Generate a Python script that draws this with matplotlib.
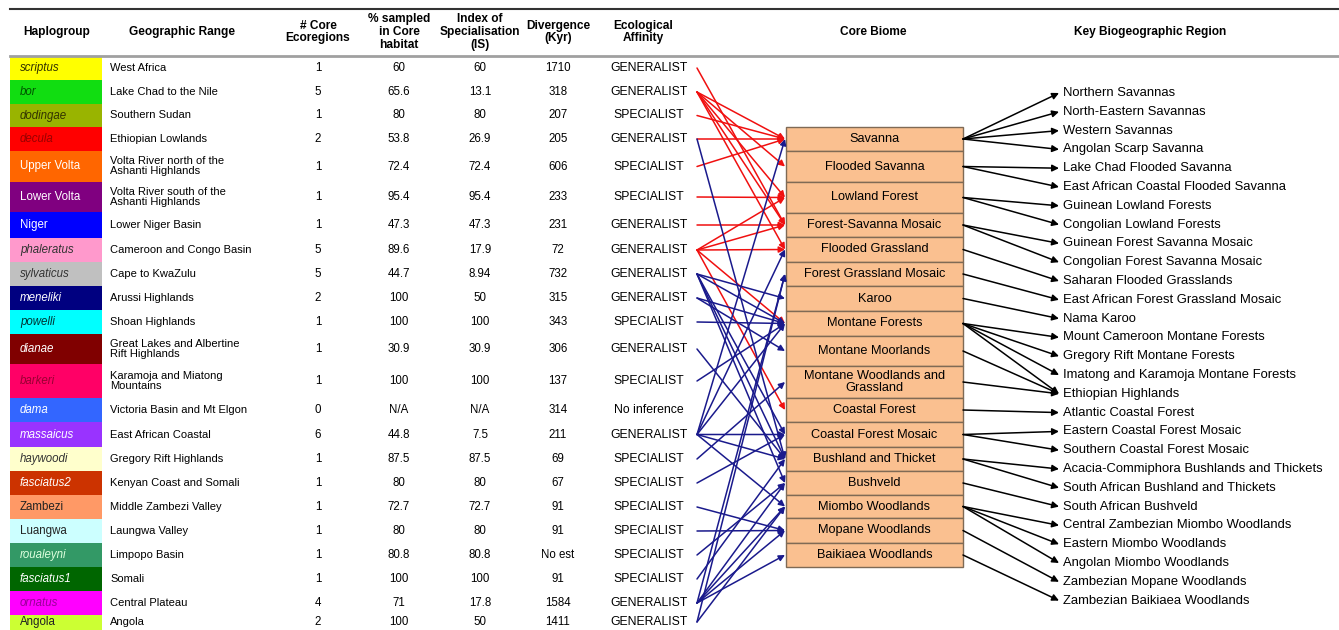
import matplotlib.pyplot as plt
from matplotlib.patches import Rectangle

plt.rcParams['font.family'] = ['Liberation Sans', 'DejaVu Sans']

# ---- table data ----
haplogroups = ['scriptus', 'bor', 'dodingae', 'decula', 'Upper Volta', 'Lower Volta', 'Niger',
               'phaleratus', 'sylvaticus', 'meneliki', 'powelli', 'dianae', 'barkeri', 'dama',
               'massaicus', 'haywoodi', 'fasciatus2', 'Zambezi', 'Luangwa', 'roualeyni',
               'fasciatus1', 'ornatus', 'Angola']
geo_range = ['West Africa', 'Lake Chad to the Nile', 'Southern Sudan', 'Ethiopian Lowlands',
             'Volta River north of the\nAshanti Highlands', 'Volta River south of the\nAshanti Highlands',
             'Lower Niger Basin', 'Cameroon and Congo Basin', 'Cape to KwaZulu', 'Arussi Highlands',
             'Shoan Highlands', 'Great Lakes and Albertine\nRift Highlands',
             'Karamoja and Miatong\nMountains', 'Victoria Basin and Mt Elgon', 'East African Coastal',
             'Gregory Rift Highlands', 'Kenyan Coast and Somali', 'Middle Zambezi Valley',
             'Laungwa Valley', 'Limpopo Basin', 'Somali', 'Central Plateau', 'Angola']
n_core = ['1', '5', '1', '2', '1', '1', '1', '5', '5', '2', '1', '1', '1', '0', '6', '1', '1', '1',
          '1', '1', '1', '4', '2']
pct_core = ['60', '65.6', '80', '53.8', '72.4', '95.4', '47.3', '89.6', '44.7', '100', '100', '30.9',
            '100', 'N/A', '44.8', '87.5', '80', '72.7', '80', '80.8', '100', '71', '100']
spec_index = ['60', '13.1', '80', '26.9', '72.4', '95.4', '47.3', '17.9', '8.94', '50', '100', '30.9',
              '100', 'N/A', '7.5', '87.5', '80', '72.7', '80', '80.8', '100', '17.8', '50']
divergence = ['1710', '318', '207', '205', '606', '233', '231', '72', '732', '315', '343', '306',
              '137', '314', '211', '69', '67', '91', '91', 'No est', '91', '1584', '1411']
affinity = ['GENERALIST', 'GENERALIST', 'SPECIALIST', 'GENERALIST', 'SPECIALIST', 'SPECIALIST',
            'GENERALIST', 'GENERALIST', 'GENERALIST', 'GENERALIST', 'SPECIALIST', 'GENERALIST',
            'SPECIALIST', 'No inference', 'GENERALIST', 'SPECIALIST', 'SPECIALIST', 'SPECIALIST',
            'SPECIALIST', 'SPECIALIST', 'SPECIALIST', 'GENERALIST', 'GENERALIST']

biomes = ['Savanna', 'Flooded Savanna', 'Lowland Forest', 'Forest-Savanna Mosaic',
          'Flooded Grassland', 'Forest Grassland Mosaic', 'Karoo', 'Montane Forests',
          'Montane Moorlands', 'Montane Woodlands and\nGrassland', 'Coastal Forest',
          'Coastal Forest Mosaic', 'Bushland and Thicket', 'Bushveld', 'Miombo Woodlands',
          'Mopane Woodlands', 'Baikiaea Woodlands']

regions = ['Northern Savannas', 'North-Eastern Savannas', 'Western Savannas', 'Angolan Scarp Savanna',
           'Lake Chad Flooded Savanna', 'East African Coastal Flooded Savanna',
           'Guinean Lowland Forests', 'Congolian Lowland Forests', 'Guinean Forest Savanna Mosaic',
           'Congolian Forest Savanna Mosaic', 'Saharan Flooded Grasslands',
           'East African Forest Grassland Mosaic', 'Nama Karoo', 'Mount Cameroon Montane Forests',
           'Gregory Rift Montane Forests', 'Imatong and Karamoja Montane Forests',
           'Ethiopian Highlands', 'Atlantic Coastal Forest', 'Eastern Coastal Forest Mosaic',
           'Southern Coastal Forest Mosaic', 'Acacia-Commiphora Bushlands and Thickets',
           'South African Bushland and Thickets', 'South African Bushveld',
           'Central Zambezian Miombo Woodlands', 'Eastern Miombo Woodlands',
           'Angolan Miombo Woodlands', 'Zambezian Mopane Woodlands', 'Zambezian Baikiaea Woodlands']

# biome index -> region index
biome_region_links = [(0, 0), (0, 1), (0, 2), (0, 3), (1, 4), (1, 5), (2, 6), (2, 7), (3, 8), (3, 9),
                      (4, 10), (5, 11), (6, 12), (7, 13), (7, 14), (7, 15), (7, 16), (8, 16), (9, 16),
                      (10, 17), (11, 18), (11, 19), (12, 20), (12, 21), (13, 22), (14, 23), (14, 24),
                      (14, 25), (15, 26), (16, 27)]

# haplogroup -> biome (approximate reading of the tangled arrows)
red_links = [('scriptus', 'Forest-Savanna Mosaic'),
             ('bor', 'Savanna'), ('bor', 'Flooded Savanna'), ('bor', 'Lowland Forest'),
             ('bor', 'Forest-Savanna Mosaic'), ('bor', 'Flooded Grassland'),
             ('dodingae', 'Savanna'), ('decula', 'Savanna'), ('Upper Volta', 'Savanna'),
             ('Lower Volta', 'Lowland Forest'), ('Niger', 'Forest-Savanna Mosaic'),
             ('phaleratus', 'Lowland Forest'), ('phaleratus', 'Forest-Savanna Mosaic'),
             ('phaleratus', 'Flooded Grassland'), ('phaleratus', 'Montane Forests'),
             ('phaleratus', 'Coastal Forest')]
blue_links = [('decula', 'Bushland and Thicket'),
              ('sylvaticus', 'Karoo'), ('sylvaticus', 'Montane Forests'),
              ('sylvaticus', 'Coastal Forest Mosaic'), ('sylvaticus', 'Bushland and Thicket'),
              ('sylvaticus', 'Bushveld'),
              ('meneliki', 'Montane Forests'), ('meneliki', 'Montane Moorlands'),
              ('powelli', 'Montane Forests'), ('dianae', 'Bushland and Thicket'),
              ('barkeri', 'Montane Forests'),
              ('massaicus', 'Savanna'), ('massaicus', 'Flooded Grassland'),
              ('massaicus', 'Montane Forests'), ('massaicus', 'Coastal Forest Mosaic'),
              ('massaicus', 'Bushland and Thicket'), ('massaicus', 'Miombo Woodlands'),
              ('haywoodi', 'Montane Woodlands and\nGrassland'), ('fasciatus2', 'Coastal Forest Mosaic'),
              ('Zambezi', 'Mopane Woodlands'), ('Luangwa', 'Mopane Woodlands'),
              ('roualeyni', 'Bushveld'), ('fasciatus1', 'Bushland and Thicket'),
              ('ornatus', 'Forest Grassland Mosaic'), ('ornatus', 'Bushveld'),
              ('ornatus', 'Miombo Woodlands'), ('ornatus', 'Mopane Woodlands'),
              ('ornatus', 'Baikiaea Woodlands'),
              ('Angola', 'Forest Grassland Mosaic'), ('Angola', 'Miombo Woodlands')]

# ---- styles / layout ----
cell_colors = ['#FFFF00', '#11DD11', '#99B400', '#FF0000', '#FF6600', '#800080', '#0000FF',
               '#FF99CC', '#C0C0C0', '#000080', '#00FFFF', '#800000', '#FF0066', '#3366FF',
               '#9933FF', '#FFFFCC', '#CC3300', '#FF9966', '#CCFFFF', '#339966', '#006600',
               '#FF00FF', '#CCFF33']
text_colors = ['#333300', '#005500', '#333300', '#990000', 'white', 'white', 'white', '#333333',
               '#333333', 'white', '#003333', 'white', '#990033', 'white', 'white', '#333333',
               'white', '#222222', '#222222', '#DDFFDD', 'white', '#990099', '#222222']
italic = [True, True, True, True, False, False, False, True, True, True, True, True, True, True,
          True, True, True, False, False, True, True, True, False]
row_h = [24, 24, 23, 24, 31, 30, 26, 24, 24, 24, 24, 30, 34, 24, 25, 24, 24, 24, 24, 24, 24, 24, 24]
biome_edges = [127, 151, 182, 213, 237, 262, 286, 311, 336, 366, 398, 422, 447, 471, 495, 518, 543, 567]

W, H = 1339, 630
fig = plt.figure(figsize=(W / 100, H / 100), dpi=100)
ax = fig.add_axes([0, 0, 1, 1])
ax.set_xlim(0, W)
ax.set_ylim(H, 0)
ax.axis('off')

fs = 8
# header
ax.plot([10, W], [9, 9], color='#333333', lw=1.5)
ax.plot([10, W], [56, 56], color='#A0A0A0', lw=2)
headers = [(57, 'Haplogroup'), (182, 'Geographic Range'), (318, '# Core\nEcoregions'),
           (399, '% sampled\nin Core\nhabitat'), (480, 'Index of\nSpecialisation\n(IS)'),
           (558, 'Divergence\n(Kyr)'), (643, 'Ecological\nAffinity'), (873, 'Core Biome'),
           (1150, 'Key Biogeographic Region')]
for hx, ht in headers:
    ax.text(hx, 32, ht, ha='center', va='center', fontsize=8.6, fontweight='bold',
            linespacing=1.1)

# table rows (last row is cut by the bottom edge, keep its text inside)
y0 = 56
row_center = {}
for i, name in enumerate(haplogroups):
    h = row_h[i]
    yc = min(y0 + h / 2, 622)
    row_center[name] = yc
    ax.add_patch(Rectangle((10, y0), 92, h, facecolor=cell_colors[i], edgecolor='none'))
    ax.text(20, yc, name, ha='left', va='center', fontsize=8.3, color=text_colors[i],
            style='italic' if italic[i] else 'normal')
    ax.text(110, yc, geo_range[i], ha='left', va='center', fontsize=fs, linespacing=1.0)
    ax.text(318, yc, n_core[i], ha='center', va='center', fontsize=8.3)
    ax.text(399, yc, pct_core[i], ha='center', va='center', fontsize=8.3)
    ax.text(480, yc, spec_index[i], ha='center', va='center', fontsize=8.3)
    ax.text(558, yc, divergence[i], ha='center', va='center', fontsize=8.3)
    ax.text(649, yc, affinity[i], ha='center', va='center', fontsize=8.8)
    y0 += h

# biome boxes
bx0, bx1 = 786, 963
biome_center = {}
for i, b in enumerate(biomes):
    top, bot = biome_edges[i], biome_edges[i + 1]
    ax.add_patch(Rectangle((bx0, top), bx1 - bx0, bot - top, facecolor='#FAC090',
                           edgecolor='#7F6A55', lw=1))
    yc = (top + bot) / 2
    biome_center[b] = yc
    ax.text((bx0 + bx1) / 2, yc, b, ha='center', va='center', fontsize=9.2, linespacing=1.0)

# region labels
reg_y0, reg_step = 93, 18.8
for j, r in enumerate(regions):
    ax.text(1063, reg_y0 + j * reg_step, r, ha='left', va='center', fontsize=9.4)


def arrow(x0, y0_, x1, y1, color, ms=9):
    ax.annotate('', xy=(x1, y1), xytext=(x0, y0_),
                arrowprops=dict(arrowstyle='-|>', color=color, lw=1.1, mutation_scale=ms,
                                shrinkA=0, shrinkB=0))


for bi, rj in biome_region_links:
    arrow(bx1, biome_center[biomes[bi]], 1059, reg_y0 + rj * reg_step, 'black', ms=10)

for hname, bname in red_links:
    arrow(697, row_center[hname], bx0 - 1, biome_center[bname], '#F01010')
for hname, bname in blue_links:
    arrow(697, row_center[hname], bx0 - 1, biome_center[bname], '#1A1A8C')

fig.savefig('out.png', dpi=100)
